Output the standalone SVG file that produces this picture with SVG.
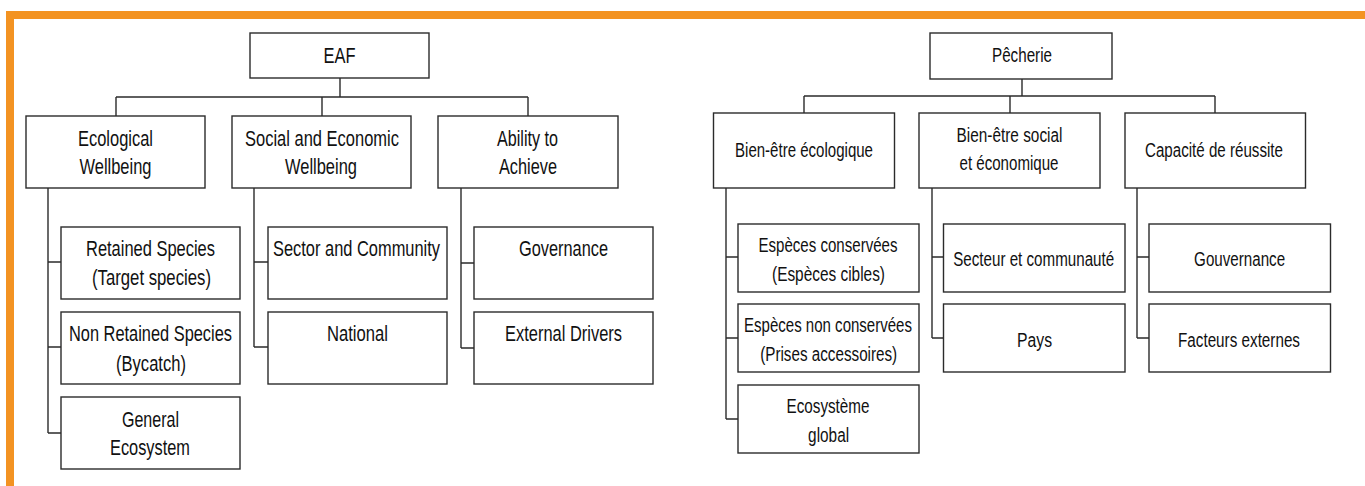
<svg xmlns="http://www.w3.org/2000/svg" width="1365" height="486" viewBox="0 0 1365 486">
<style>
.box{fill:#fff;stroke:#2b2b2b;stroke-width:1.4}
.ln{fill:none;stroke:#2b2b2b;stroke-width:1.4}
text{font-family:"Liberation Sans",Arial,sans-serif;font-size:21.5px;fill:#111;text-anchor:middle}
.fr{font-size:20px}
</style>
<rect width="1365" height="486" fill="#fff"/>
<rect x="10" y="15" width="1400" height="520" fill="none" stroke="#F39322" stroke-width="8"/>
<g id="connectors">
<path class="ln" d="M340 78V97M116 97H528M116 97V116M322 97V116M528 97V116"/>
<path class="ln" d="M48 188V433M48 262H61M48 347H61M48 433H61"/>
<path class="ln" d="M254 188V347M254 262H268M254 347H268"/>
<path class="ln" d="M461 188V348M461 263H474M461 348H474"/>
<path class="ln" d="M1022 79V96M804 96H1215M804 96V113M1010 96V113M1215 96V113"/>
<path class="ln" d="M726 188V419M726 257H738M726 338H738M726 419H738"/>
<path class="ln" d="M932 188V338M932 257H943M932 338H943"/>
<path class="ln" d="M1137 188V338M1137 257H1149M1137 338H1149"/>
</g>
<g id="eaf"><rect class="box" x="250" y="33" width="179" height="45"/><text x="339.5" y="63" textLength="32" lengthAdjust="spacingAndGlyphs">EAF</text></g>
<g id="ecological"><rect class="box" x="26" y="116" width="179" height="72"/><text x="115.5" y="146" textLength="75" lengthAdjust="spacingAndGlyphs">Ecological</text><text x="115.5" y="174" textLength="72" lengthAdjust="spacingAndGlyphs">Wellbeing</text></g>
<g id="social"><rect class="box" x="232" y="116" width="179" height="72"/><text x="322" y="146" textLength="154" lengthAdjust="spacingAndGlyphs">Social and Economic</text><text x="321" y="174" textLength="72" lengthAdjust="spacingAndGlyphs">Wellbeing</text></g>
<g id="ability"><rect class="box" x="438" y="116" width="180" height="72"/><text x="527.5" y="146" textLength="61" lengthAdjust="spacingAndGlyphs">Ability to</text><text x="528" y="174" textLength="58" lengthAdjust="spacingAndGlyphs">Achieve</text></g>
<g id="retained"><rect class="box" x="61" y="227" width="179" height="72"/><text x="150.5" y="256" textLength="129" lengthAdjust="spacingAndGlyphs">Retained Species</text><text x="151.5" y="285" textLength="119" lengthAdjust="spacingAndGlyphs">(Target species)</text></g>
<g id="nonretained"><rect class="box" x="61" y="312" width="179" height="72"/><text x="150.5" y="341" textLength="163" lengthAdjust="spacingAndGlyphs">Non Retained Species</text><text x="151" y="371" textLength="70" lengthAdjust="spacingAndGlyphs">(Bycatch)</text></g>
<g id="general"><rect class="box" x="61" y="397" width="179" height="72"/><text x="150.5" y="427" textLength="57" lengthAdjust="spacingAndGlyphs">General</text><text x="150" y="455" textLength="80" lengthAdjust="spacingAndGlyphs">Ecosystem</text></g>
<g id="sector"><rect class="box" x="268" y="227" width="179" height="72"/><text x="356.5" y="256" textLength="167" lengthAdjust="spacingAndGlyphs">Sector and Community</text></g>
<g id="national"><rect class="box" x="268" y="312" width="179" height="72"/><text x="357.5" y="341" textLength="61" lengthAdjust="spacingAndGlyphs">National</text></g>
<g id="governance"><rect class="box" x="474" y="227" width="179" height="72"/><text x="563.5" y="256" textLength="89" lengthAdjust="spacingAndGlyphs">Governance</text></g>
<g id="external"><rect class="box" x="474" y="312" width="179" height="72"/><text x="563.5" y="341" textLength="117" lengthAdjust="spacingAndGlyphs">External Drivers</text></g>
<g id="pecherie"><rect class="box" x="930" y="33" width="182" height="46"/><text class="fr" x="1022" y="62" textLength="60" lengthAdjust="spacingAndGlyphs">Pêcherie</text></g>
<g id="bien-eco"><rect class="box" x="713.5" y="113" width="181" height="75"/><text class="fr" x="804" y="157" textLength="138" lengthAdjust="spacingAndGlyphs">Bien-être écologique</text></g>
<g id="bien-soc"><rect class="box" x="919" y="113" width="181" height="75"/><text class="fr" x="1009.5" y="142" textLength="106" lengthAdjust="spacingAndGlyphs">Bien-être social</text><text class="fr" x="1009" y="170" textLength="99" lengthAdjust="spacingAndGlyphs">et économique</text></g>
<g id="capacite"><rect class="box" x="1125" y="113" width="180.5" height="75"/><text class="fr" x="1214" y="157" textLength="138" lengthAdjust="spacingAndGlyphs">Capacité de réussite</text></g>
<g id="especes-cons"><rect class="box" x="738" y="224" width="181" height="68"/><text class="fr" x="828" y="252" textLength="139" lengthAdjust="spacingAndGlyphs">Espèces conservées</text><text class="fr" x="828.5" y="281" textLength="113" lengthAdjust="spacingAndGlyphs">(Espèces cibles)</text></g>
<g id="especes-non"><rect class="box" x="738" y="304" width="181" height="68"/><text class="fr" x="828" y="332" textLength="168" lengthAdjust="spacingAndGlyphs">Espèces non conservées</text><text class="fr" x="828.7" y="361" textLength="137" lengthAdjust="spacingAndGlyphs">(Prises accessoires)</text></g>
<g id="ecosysteme"><rect class="box" x="738" y="385" width="181" height="68"/><text class="fr" x="828" y="413" textLength="83" lengthAdjust="spacingAndGlyphs">Ecosystème</text><text class="fr" x="828.6" y="442" textLength="41" lengthAdjust="spacingAndGlyphs">global</text></g>
<g id="secteur"><rect class="box" x="943.5" y="224" width="181.5" height="68"/><text class="fr" x="1033.7" y="266" textLength="161" lengthAdjust="spacingAndGlyphs">Secteur et communauté</text></g>
<g id="pays"><rect class="box" x="943.5" y="304" width="181.5" height="68"/><text class="fr" x="1034.6" y="347" textLength="35" lengthAdjust="spacingAndGlyphs">Pays</text></g>
<g id="gouvernance"><rect class="box" x="1149" y="224" width="181.5" height="68"/><text class="fr" x="1239.6" y="266" textLength="91" lengthAdjust="spacingAndGlyphs">Gouvernance</text></g>
<g id="facteurs"><rect class="box" x="1149" y="304" width="181.5" height="68"/><text class="fr" x="1239" y="347" textLength="122" lengthAdjust="spacingAndGlyphs">Facteurs externes</text></g>
</svg>
